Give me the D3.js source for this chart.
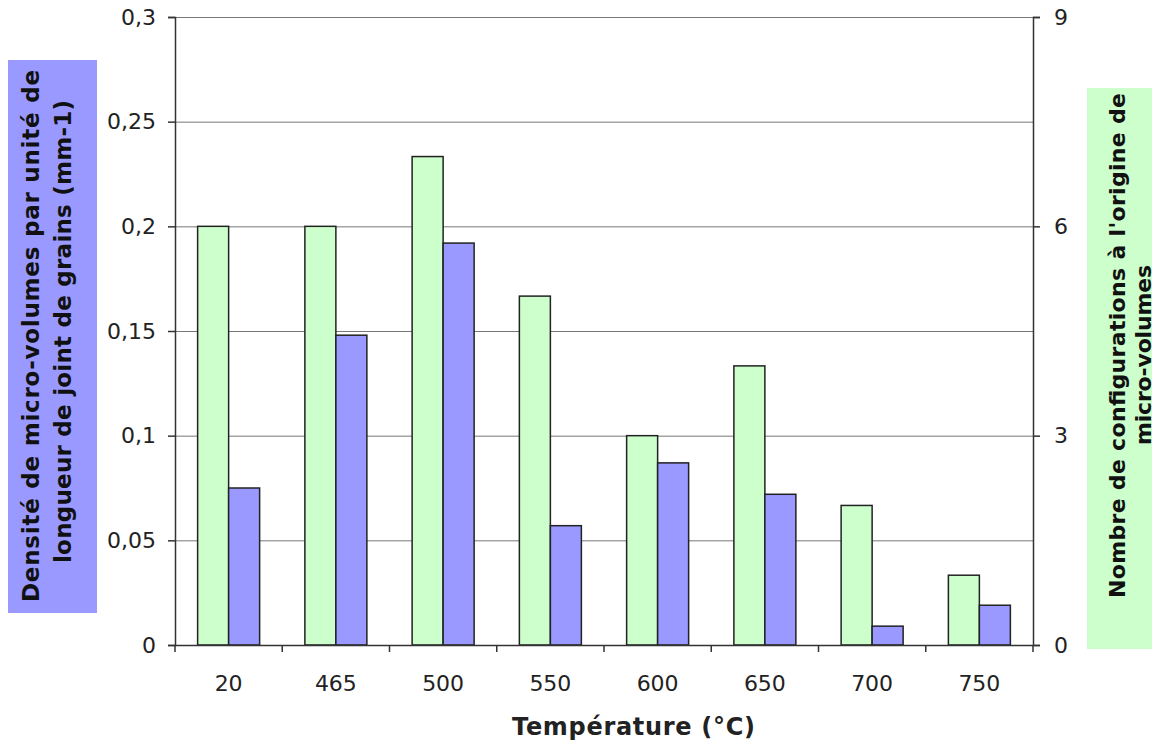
<!DOCTYPE html>
<html><head><meta charset="utf-8">
<script src="https://cdn.jsdelivr.net/npm/d3@7"></script>
<style>body{margin:0;background:#fff}svg{display:block}</style>
</head><body>
<script>
const categories = ["20","465","500","550","600","650","700","750"];
const configCounts = [6,6,7,5,3,4,2,1];           // right axis (green)
const densities = [0.075,0.148,0.192,0.057,0.087,0.072,0.009,0.019]; // left axis (blue)
const leftTicks = [0,0.05,0.1,0.15,0.2,0.25,0.3];
const rightTicks = [0,3,6,9];
const leftTitle = ["Densité de micro-volumes par unité de","longueur de joint de grains (mm-1)"];
const rightTitle = ["Nombre de configurations à l'origine de","micro-volumes"];
const xTitle = "Température (°C)";

const W=1158,H=746;
const m={l:175,r:1033,t:17,b:645};
const svg=d3.select("body").append("svg").attr("width",W).attr("height",H);
const font="DejaVu Sans, Verdana, sans-serif";

const x=d3.scaleBand().domain(categories).range([m.l,m.r]).paddingInner(0).paddingOuter(0);
const yL=d3.scaleLinear().domain([0,0.3]).range([m.b,m.t]);
const yR=d3.scaleLinear().domain([0,9]).range([m.b,m.t]);

// gridlines
svg.append("g").selectAll("line").data(leftTicks.slice(1)).join("line")
  .attr("x1",m.l).attr("x2",m.r).attr("y1",d=>yL(d)+0.5).attr("y2",d=>yL(d)+0.5)
  .attr("stroke","#777").attr("stroke-width",1);

const bw=31;
// green bars
svg.append("g").selectAll("rect").data(categories).join("rect")
  .attr("x",(d)=>x(d)+x.bandwidth()/2-bw)
  .attr("y",(d,i)=>yR(configCounts[i]))
  .attr("width",bw).attr("height",(d,i)=>m.b-yR(configCounts[i]))
  .attr("fill","#ccffcc").attr("stroke","#222").attr("stroke-width",1.5);
// blue bars
svg.append("g").selectAll("rect").data(categories).join("rect")
  .attr("x",(d)=>x(d)+x.bandwidth()/2)
  .attr("y",(d,i)=>yL(densities[i]))
  .attr("width",bw).attr("height",(d,i)=>m.b-yL(densities[i]))
  .attr("fill","#9999ff").attr("stroke","#222").attr("stroke-width",1.5);

// axes
const fmt=d=>String(d).replace(".",",");
const ga=svg.append("g").attr("transform",`translate(${m.l},0)`)
  .call(d3.axisLeft(yL).tickValues(leftTicks).tickFormat(fmt).tickSize(7).tickPadding(12));
const gr=svg.append("g").attr("transform",`translate(${m.r},0)`)
  .call(d3.axisRight(yR).tickValues(rightTicks).tickSize(7).tickPadding(14));
const xTickPos=d3.range(categories.length+1).map(i=>m.l+i*x.bandwidth());
const gx=svg.append("g").attr("transform",`translate(0,${m.b})`)
  .call(d3.axisBottom(x).tickSize(0).tickPadding(30));
svg.append("g").selectAll("line").data(xTickPos).join("line")
  .attr("x1",d=>d).attr("x2",d=>d).attr("y1",m.b).attr("y2",m.b+7).attr("stroke","#333").attr("stroke-width",1.5);
[ga,gr,gx].forEach(g=>{
  g.selectAll("path").attr("stroke","#333").attr("stroke-width",1.5);
  g.selectAll("line").attr("stroke","#333").attr("stroke-width",1.5);
  g.selectAll("text").attr("font-family",font).attr("font-size",22).attr("fill","#222");
});
gx.select(".domain").attr("d",`M${m.l},0.5H${m.r}`);

// x title
svg.append("text").attr("x",512).attr("y",735)
  .attr("font-family",font).attr("font-weight","bold").attr("font-size",24).attr("fill","#222")
  .attr("textLength",243).attr("lengthAdjust","spacing").text(xTitle);

// left title box
svg.append("rect").attr("x",8).attr("y",60).attr("width",89).attr("height",553).attr("fill","#9999ff");
const lt=svg.append("text").attr("transform","rotate(-90)")
  .attr("font-family",font).attr("font-weight","bold").attr("font-size",23).attr("fill","#111");
lt.append("tspan").attr("x",-602).attr("y",39).attr("textLength",532).attr("lengthAdjust","spacing").text(leftTitle[0]);
lt.append("tspan").attr("x",-563).attr("y",71).attr("textLength",463).attr("lengthAdjust","spacing").text(leftTitle[1]);

// right title box
svg.append("rect").attr("x",1087).attr("y",88).attr("width",65).attr("height",561).attr("fill","#ccffcc");
const rt=svg.append("text").attr("transform","rotate(-90)")
  .attr("font-family",font).attr("font-weight","bold").attr("font-size",22).attr("fill","#111");
rt.append("tspan").attr("x",-598).attr("y",1125).attr("textLength",505).attr("lengthAdjust","spacing").text(rightTitle[0]);
rt.append("tspan").attr("x",-445).attr("y",1151).attr("textLength",180).attr("lengthAdjust","spacing").text(rightTitle[1]);
</script>
</body></html>
